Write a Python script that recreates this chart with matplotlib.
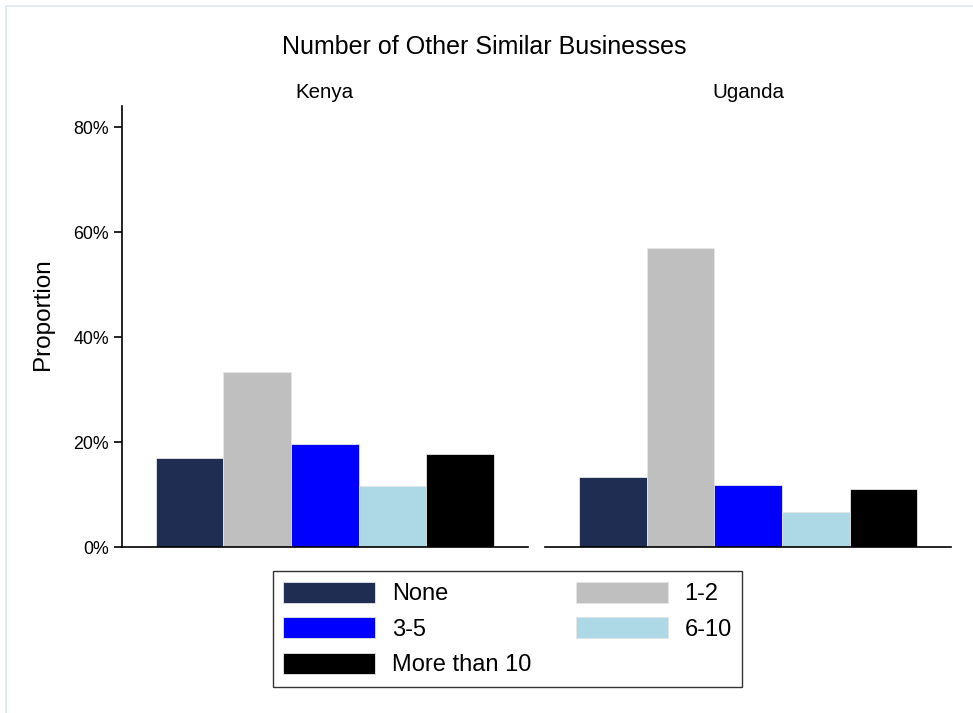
import matplotlib
matplotlib.use("Agg")
import matplotlib.pyplot as plt
from matplotlib.patches import Rectangle
from matplotlib.ticker import FuncFormatter

plt.rcParams['font.family'] = ['Liberation Sans', 'DejaVu Sans']

countries = ['Kenya', 'Uganda']
categories = ['None', '1-2', '3-5', '6-10', 'More than 10']
colors = ['#1f2d52', '#bfbfbf', '#0000ff', '#add8e6', '#000000']
kenya = [17.0, 33.4, 19.6, 11.7, 17.8]
uganda = [13.3, 56.9, 11.8, 6.7, 11.0]
yticks = [0, 20, 40, 60, 80]

fig = plt.figure(figsize=(9.73, 7.13), dpi=100)

# faint frame around the graph area
fig.patches.append(Rectangle((6 / 973, -0.1), 1.1, 1 - 6 / 713 + 0.1,
                             transform=fig.transFigure, fill=False,
                             edgecolor='#dde6ea', lw=1.2))

ax1 = fig.add_axes([0.1254, 0.2328, 0.417, 0.6185])
ax2 = fig.add_axes([0.5604, 0.2328, 0.417, 0.6185], sharey=ax1)

handles = []
for ax, name, vals in zip([ax1, ax2], countries, [kenya, uganda]):
    bars = ax.bar(range(len(vals)), vals, width=1.0, color=colors,
                  edgecolor='#e6e6e6', linewidth=0.6)
    handles = bars
    ax.set_xlim(-1, 5)
    ax.set_ylim(0, 84)
    ax.set_title(name, fontsize=14.8, pad=6)
    ax.set_xticks([])
    for s in ['top', 'right']:
        ax.spines[s].set_visible(False)
    ax.spines['bottom'].set_linewidth(1.2)

ax1.spines['left'].set_linewidth(1.2)
ax1.set_yticks(yticks)
ax1.yaxis.set_major_formatter(FuncFormatter(lambda v, p: '%d%%' % v))
ax1.tick_params(axis='y', length=6, width=1.2, labelsize=12.8, colors='black')
ax1.set_ylabel('Proportion', fontsize=17.5, labelpad=14)
ax1.yaxis.label.set_y(0.528)

ax2.spines['left'].set_visible(False)
ax2.tick_params(axis='y', left=False, labelleft=False)

fig.text(0.498, 0.934, 'Number of Other Similar Businesses', fontsize=18,
         ha='center', va='center')

order = [0, 2, 4, 1, 3]
leg = fig.legend([handles[i] for i in order], [categories[i] for i in order],
                 ncol=2, loc='upper center', bbox_to_anchor=(0.5216, 0.199),
                 borderaxespad=0, fontsize=17, frameon=True, fancybox=False,
                 edgecolor='black', handlelength=3.9, handleheight=1.0,
                 handletextpad=0.7, columnspacing=1.9, labelspacing=0.5,
                 borderpad=0.45)
leg.get_frame().set_linewidth(1.0)

fig.savefig('out.png', dpi=100, facecolor='white')
